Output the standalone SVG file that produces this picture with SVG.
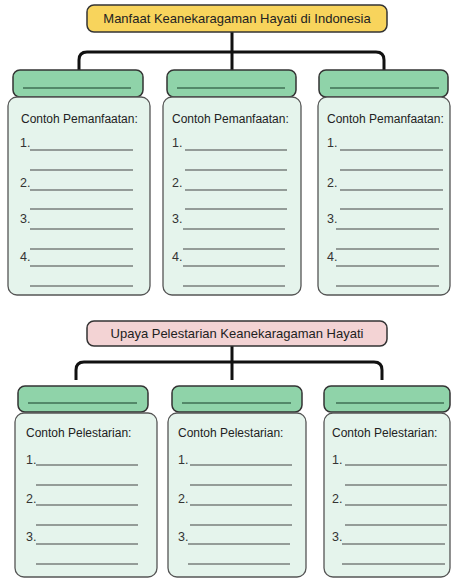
<svg xmlns="http://www.w3.org/2000/svg" width="451" height="578" viewBox="0 0 451 578">
<style>
text{font-family:"Liberation Sans",Arial,sans-serif;fill:#222}
.title{font-size:13px;text-anchor:middle}
.head{font-size:12px}
.num{font-size:12.5px;fill:#333}
.hdr{fill:#8fd3a9;stroke:#333;stroke-width:1.5}
.box{fill:#e5f4ec;stroke:#555;stroke-width:1.3}
.ln{stroke:#444;stroke-width:1.1}
.ul{stroke:#3f6f55;stroke-width:1.3}
.conn{fill:none;stroke:#111;stroke-width:3}
</style>
<rect width="451" height="578" fill="#fff"/>
<g id="connectors">
<path class="conn" d="M232 32 V52 M79 70 V60 Q79 52 87 52 H376 Q384 52 384 60 V70 M232 52 V70"/>
<path class="conn" d="M232 346 V362 M76 380 V370 Q76 362 84 362 H374 Q382 362 382 370 V380 M232 362 V380"/>
</g>
<g id="title1">
<rect x="87" y="5" width="300" height="27" rx="7" fill="#f8d45c" stroke="#333" stroke-width="1.5"/>
<text class="title" x="237" y="23">Manfaat Keanekaragaman Hayati di Indonesia</text>
</g>
<g id="h1a"><rect class="hdr" x="13" y="70" width="130" height="27" rx="7"/><line class="ul" x1="23" y1="88" x2="131" y2="88"/></g>
<g id="h1b"><rect class="hdr" x="167" y="70" width="129" height="27" rx="7"/><line class="ul" x1="177" y1="88" x2="285" y2="88"/></g>
<g id="h1c"><rect class="hdr" x="319" y="70" width="129" height="27" rx="7"/><line class="ul" x1="330" y1="88" x2="439" y2="88"/></g>
<g id="c1a">
<rect class="box" x="8" y="97" width="142" height="198" rx="9"/>
<text class="head" x="21" y="123">Contoh Pemanfaatan:</text>
<text class="num" x="20" y="147">1.</text><text class="num" x="20" y="187">2.</text><text class="num" x="20" y="223">3.</text><text class="num" x="20" y="261">4.</text>
<path class="ln" d="M30 150H133M30 170H133M30 190H133M30 209H133M30 229H133M30 249H133M30 266H133M30 286H133"/>
</g>
<g id="c1b">
<rect class="box" x="163" y="97" width="138" height="198" rx="9"/>
<text class="head" x="172" y="123">Contoh Pemanfaatan:</text>
<text class="num" x="172" y="147">1.</text><text class="num" x="172" y="187">2.</text><text class="num" x="172" y="223">3.</text><text class="num" x="172" y="261">4.</text>
<path class="ln" d="M185 150H287M185 170H287M185 190H287M185 209H287M183 229H285M183 249H285M183 266H285M183 286H285"/>
</g>
<g id="c1c">
<rect class="box" x="318" y="97" width="132" height="198" rx="9"/>
<text class="head" x="327" y="123">Contoh Pemanfaatan:</text>
<text class="num" x="327" y="147">1.</text><text class="num" x="327" y="187">2.</text><text class="num" x="327" y="223">3.</text><text class="num" x="327" y="261">4.</text>
<path class="ln" d="M340 150H443M340 170H443M340 190H443M340 209H443M336 229H439M336 249H439M336 266H439M336 286H439"/>
</g>
<g id="title2">
<rect x="87" y="321" width="300" height="25" rx="7" fill="#f3d3d4" stroke="#333" stroke-width="1.5"/>
<text class="title" x="237" y="338">Upaya Pelestarian Keanekaragaman Hayati</text>
</g>
<g id="h2a"><rect class="hdr" x="18" y="386" width="130" height="26" rx="7"/><line class="ul" x1="28" y1="403" x2="137" y2="403"/></g>
<g id="h2b"><rect class="hdr" x="172" y="386" width="130" height="26" rx="7"/><line class="ul" x1="182" y1="403" x2="291" y2="403"/></g>
<g id="h2c"><rect class="hdr" x="324" y="386" width="126" height="26" rx="7"/><line class="ul" x1="336" y1="403" x2="444" y2="403"/></g>
<g id="c2a">
<rect class="box" x="15" y="413" width="142" height="164" rx="9"/>
<text class="head" x="26" y="437">Contoh Pelestarian:</text>
<text class="num" x="26" y="464">1.</text><text class="num" x="26" y="503">2.</text><text class="num" x="26" y="541">3.</text>
<path class="ln" d="M36 465H138M36 485H138M36 505H138M36 525H138M36 544H138M36 564H138"/>
</g>
<g id="c2b">
<rect class="box" x="168" y="413" width="138" height="164" rx="9"/>
<text class="head" x="178" y="437">Contoh Pelestarian:</text>
<text class="num" x="178" y="464">1.</text><text class="num" x="178" y="503">2.</text><text class="num" x="178" y="541">3.</text>
<path class="ln" d="M190 465H292M190 485H292M190 505H292M190 525H292M188 544H290M188 564H290"/>
</g>
<g id="c2c">
<rect class="box" x="324" y="413" width="126" height="164" rx="9"/>
<text class="head" x="332" y="437">Contoh Pelestarian:</text>
<text class="num" x="332" y="464">1.</text><text class="num" x="332" y="503">2.</text><text class="num" x="332" y="541">3.</text>
<path class="ln" d="M345 465H447M345 485H447M345 505H447M345 525H447M342 544H445M342 564H445"/>
</g>
</svg>
